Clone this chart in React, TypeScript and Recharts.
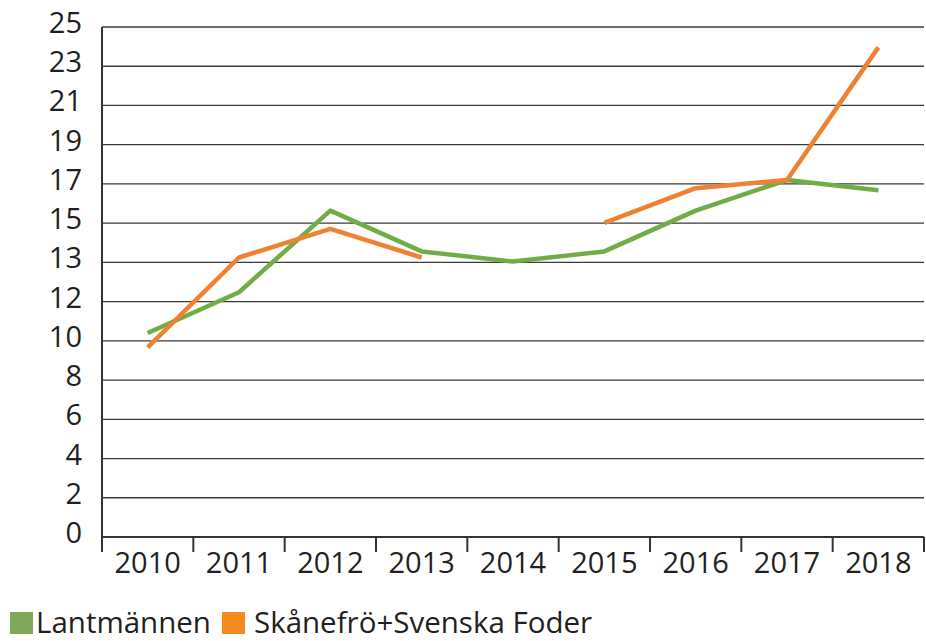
import { LineChart, Line, XAxis, YAxis, CartesianGrid, Legend } from 'recharts';

const years = ['2010', '2011', '2012', '2013', '2014', '2015', '2016', '2017', '2018'];
const lantmannen = [10.0, 12.0, 16.0, 14.0, 13.5, 14.0, 16.0, 17.5, 17.0];
const skanefro = [9.3, 13.7, 15.1, 13.7, null, 15.4, 17.1, 17.5, 24.0];
const yTickLabels = ['0', '2', '4', '6', '8', '10', '12', '13', '15', '17', '19', '21', '23', '25'];
const yMax = 25;

const seriesNames = ['Lantmännen', 'Skånefrö+Svenska Foder'];
const lineColors = ['#70ad47', '#ee8232'];
const swatchColors = ['#80a85a', '#f58b20'];

const CHART_W = 926;
const CHART_H = 641;
const Y_AXIS_W = 102;
const MARGIN = { top: 27, right: 2, left: 0, bottom: 0 };
const PLOT_W = CHART_W - Y_AXIS_W - MARGIN.left - MARGIN.right;
const HALF_BAND = PLOT_W / years.length / 2;

const FONT = '"Open Sans", sans-serif';
const TEXT_COLOR = '#231f20';
const AXIS_COLOR = '#333';

const chartData = years.map((year, i) => ({
    year,
    lantmannen: lantmannen[i],
    skanefro: skanefro[i],
}));

// tick positions are evenly spaced, the labels are the rounded values
const yTicks = yTickLabels.map((_, i) => (i * yMax) / (yTickLabels.length - 1));

// eslint-disable-next-line @typescript-eslint/no-explicit-any
const XTick = (props: any) => {
    const { x, y, payload, index } = props;
    return (
        <g>
            <line x1={x - HALF_BAND} y1={y} x2={x - HALF_BAND} y2={y + 15} stroke={AXIS_COLOR} strokeWidth={2} />
            {index === years.length - 1 && (
                <line x1={x + HALF_BAND} y1={y} x2={x + HALF_BAND} y2={y + 15} stroke={AXIS_COLOR} strokeWidth={2} />
            )}
            <text x={x} y={y + 36} textAnchor="middle" fontSize={29} fontFamily={FONT} fill={TEXT_COLOR}>
                {payload.value}
            </text>
        </g>
    );
};

// eslint-disable-next-line @typescript-eslint/no-explicit-any
const YTick = (props: any) => {
    const { x, y, index } = props;
    return (
        <text x={x} y={y + 6} textAnchor="end" fontSize={29} fontFamily={FONT} fill={TEXT_COLOR}>
            {yTickLabels[index]}
        </text>
    );
};

const LegendContent = () => (
    <div style={{ display: 'flex', alignItems: 'flex-start', height: 40, fontFamily: FONT, fontSize: 29.5, color: TEXT_COLOR }}>
        {seriesNames.map((name, i) => (
            <div key={name} style={{ display: 'flex', alignItems: 'flex-start', marginRight: 11 }}>
                <div style={{ width: 23, height: 22, marginTop: 11, background: swatchColors[i], marginRight: i === 0 ? 3 : 9 }} />
                <span style={{ lineHeight: '40px', paddingTop: 1, whiteSpace: 'nowrap' }}>{name}</span>
            </div>
        ))}
    </div>
);

export default function App() {
    return (
        <div style={{ position: 'absolute', left: 0, top: 0, width: CHART_W, height: CHART_H, background: '#fff' }}>
            <LineChart width={CHART_W} height={CHART_H} data={chartData} margin={MARGIN}>
                <CartesianGrid horizontal vertical={false} stroke="#3a3a3a" strokeWidth={1.3} />
                <XAxis
                    dataKey="year"
                    interval={0}
                    height={64}
                    padding={{ left: HALF_BAND, right: HALF_BAND }}
                    tickSize={0}
                    tickMargin={0}
                    tickLine={false}
                    axisLine={{ stroke: AXIS_COLOR, strokeWidth: 2 }}
                    tick={<XTick />}
                />
                <YAxis
                    domain={[0, yMax]}
                    ticks={yTicks}
                    interval={0}
                    width={Y_AXIS_W}
                    tickSize={0}
                    tickMargin={20}
                    tickLine={false}
                    axisLine={{ stroke: AXIS_COLOR, strokeWidth: 2 }}
                    tick={<YTick />}
                />
                <Legend
                    verticalAlign="bottom"
                    align="left"
                    content={<LegendContent />}
                    wrapperStyle={{ left: 10, height: 40 }}
                />
                <Line
                    type="linear"
                    dataKey="lantmannen"
                    name={seriesNames[0]}
                    stroke={lineColors[0]}
                    strokeWidth={4.5}
                    strokeLinejoin="round"
                    dot={false}
                    activeDot={false}
                    isAnimationActive={false}
                />
                <Line
                    type="linear"
                    dataKey="skanefro"
                    name={seriesNames[1]}
                    stroke={lineColors[1]}
                    strokeWidth={4.5}
                    strokeLinejoin="round"
                    dot={false}
                    activeDot={false}
                    isAnimationActive={false}
                />
            </LineChart>
        </div>
    );
}
